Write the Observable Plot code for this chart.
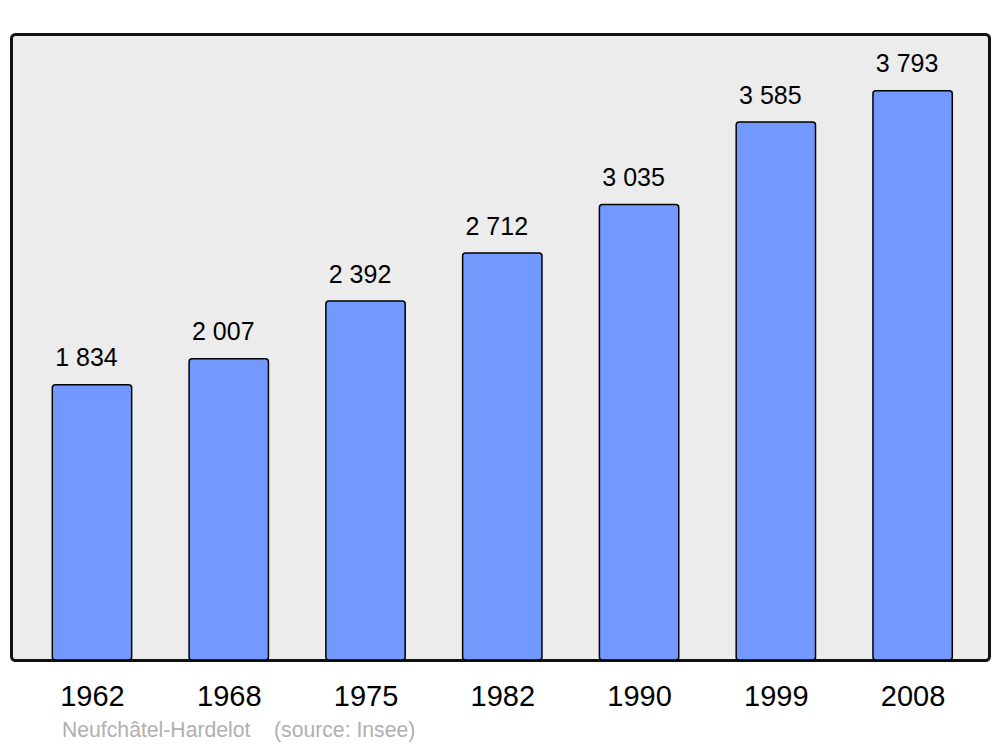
<!DOCTYPE html>
<html>
<head>
<meta charset="utf-8">
<script src="https://cdn.jsdelivr.net/npm/d3@7"></script>
<script src="https://cdn.jsdelivr.net/npm/@observablehq/plot@0.6"></script>
<style>
  html, body { margin: 0; padding: 0; background: #fff; }
  body { width: 1000px; height: 747px; position: relative; font-family: "Liberation Sans", Arial, sans-serif; }
  #caption { position: absolute; left: 62px; top: 718px; font-size: 21.2px; line-height: 24px; color: #b0b0b0; white-space: pre; }
</style>
</head>
<body>
<div id="chart"></div>
<div id="caption">Neufchâtel-Hardelot    (source: Insee)</div>
<script>
const years = ["1962", "1968", "1975", "1982", "1990", "1999", "2008"];
const population = [1834, 2007, 2392, 2712, 3035, 3585, 3793];

const data = years.map((y, i) => ({year: y, value: population[i]}));
const fmt = v => d3.format(",")(v).replace(/,/g, " ");

const chart = Plot.plot({
  width: 1000,
  height: 715,
  marginTop: 34,
  marginBottom: 55,
  marginLeft: 11,
  marginRight: 11,
  style: {fontFamily: "'Liberation Sans', Arial, sans-serif", color: "#000", background: "transparent"},
  x: {domain: years, range: [23.6, 981], paddingInner: 0.42, paddingOuter: 0.21, round: false, label: null},
  y: {domain: [0, 4172], axis: null},
  marks: [
    Plot.frame({fill: "#ececec", stroke: "#111", strokeWidth: 3, rx: 4}),
    Plot.barY(data, {x: "year", y: "value", fill: "#7399ff", stroke: "#000", strokeWidth: 1.5, rx: 3}),
    Plot.text(data, {x: "year", y: "value", text: d => fmt(d.value), dy: -19, dx: -6, lineAnchor: "bottom", fontSize: 25, fill: "#000"}),
    Plot.axisX({tickSize: 0, tickPadding: 25, fontSize: 29, fill: "#000"})
  ]
});
document.getElementById("chart").appendChild(chart);
</script>
</body>
</html>
